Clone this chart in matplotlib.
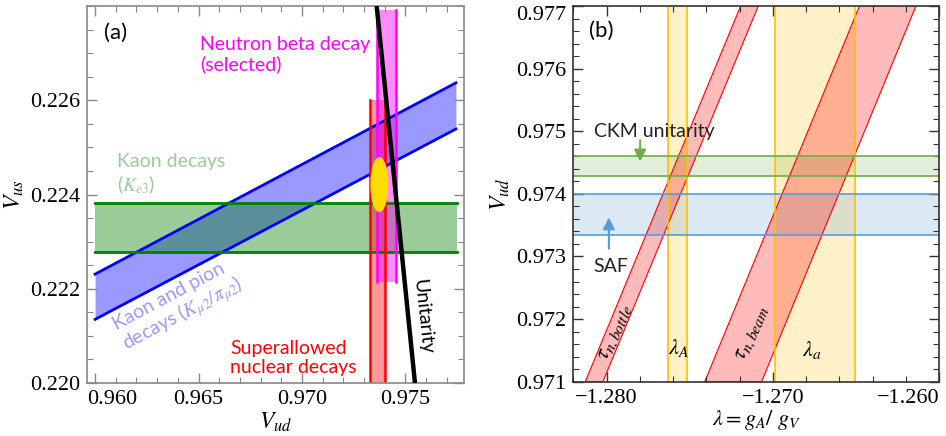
import numpy as np
import matplotlib.pyplot as plt
from matplotlib.patches import Ellipse
from matplotlib.ticker import MultipleLocator
from matplotlib.transforms import ScaledTranslation

plt.rcParams['mathtext.fontset'] = 'stix'
plt.rcParams['font.family'] = ['Lato', 'DejaVu Sans']

# ---- panel (a) data : Vud vs Vus ----
ke3_vud = [0.9600, 0.97747]
ke3_vus = [0.22277, 0.22382]          # lower, upper
kmu2_vud = [0.9600, 0.97744]
kmu2_upper = [0.22231, 0.22637]
kmu2_lower = [0.22135, 0.22539]
saf_vud = [0.97328, 0.97401]
saf_vus = [0.2200, 0.2260]
neutron_vud = [0.97364, 0.97454]
neutron_vus = [0.22215, 0.22791]
fit_center = [0.97374, 0.22421]
fit_size = [0.00087, 0.00117]
unitarity_vud = [0.97361, 0.97546]
unitarity_vus = [0.2280, 0.2200]
a_xticks = [0.960, 0.965, 0.970, 0.975]
a_yticks = [0.220, 0.222, 0.224, 0.226]

# ---- panel (b) data : lambda vs Vud ----
ckm_vud = [0.97429, 0.97460]
saf_b_vud = [0.97335, 0.97399]
lamA = [-1.27628, -1.27518]
lama = [-1.26988, -1.26504]
band_y = [0.971, 0.977]
bottle_bottom = [-1.28128, -1.28022]
bottle_top = [-1.27194, -1.27088]
beam_bottom = [-1.27410, -1.27068]
beam_top = [-1.26480, -1.26140]
b_xticks = [-1.280, -1.270, -1.260]
b_yticks = [0.971, 0.972, 0.973, 0.974, 0.975, 0.976, 0.977]

fig = plt.figure(figsize=(9.46, 4.36), dpi=100)
ax1 = fig.add_axes([87/946, 53/436, 377/946, 377/436])
ax2 = fig.add_axes([573.3/946, 54.3/436, 366/946, 375.7/436])

serif = 'Liberation Serif'
tfs = 16   # tick label size
afs = 14   # annotation size

# panel (a)
ax1.fill_between(kmu2_vud, kmu2_lower, kmu2_upper, color='blue', alpha=0.4, lw=0)
ax1.plot(kmu2_vud, kmu2_upper, color='blue', lw=2)
ax1.plot(kmu2_vud, kmu2_lower, color='blue', lw=2)
ax1.fill_between(ke3_vud, ke3_vus[0], ke3_vus[1], color='green', alpha=0.4, lw=0)
for v in ke3_vus:
    ax1.plot(ke3_vud, [v, v], color='green', lw=2)
ax1.fill_betweenx(saf_vus, saf_vud[0], saf_vud[1], color='red', alpha=0.4, lw=0)
for v in saf_vud:
    ax1.plot([v, v], saf_vus, color='red', lw=1.8)
ax1.fill_betweenx(neutron_vus, neutron_vud[0], neutron_vud[1], color='magenta', alpha=0.45, lw=0)
for v in neutron_vud:
    ax1.plot([v, v], neutron_vus, color='magenta', lw=1.8)
ax1.add_patch(Ellipse(fit_center, fit_size[0], fit_size[1], color='#ffdd00', lw=0, zorder=4))
ax1.plot(unitarity_vud, unitarity_vus, color='black', lw=3.2, zorder=5, solid_capstyle='butt')

ax1.set_xlim(0.95961, 0.97783)
ax1.set_ylim(0.2200, 0.2280)

ax1.text(0.96101, 0.22742, '(a)', fontsize=16, ha='center', va='center')
ax1.text(0.96507, 0.22697, 'Neutron beta decay\n(selected)', color='magenta',
         fontsize=afs, ha='left', va='center', linespacing=1.2)
ax1.text(0.96106, 0.22442, 'Kaon decays\n($K_{e3}$)', color='#99cc99',
         fontsize=afs, ha='left', va='center', linespacing=1.2)
ax1.text(0.96406, 0.22163, 'Kaon and pion\ndecays ($K_{\\mu 2}/\\pi_{\\mu 2}$)', color='#9999ff',
         fontsize=afs, ha='center', va='center', rotation=28, multialignment='left', linespacing=1.05)
ax1.text(0.96652, 0.22053, 'Superallowed\nnuclear decays', color='red',
         fontsize=afs, ha='left', va='center', linespacing=1.2)
ax1.text(0.97585, 0.2214, 'Unitarity', color='black', fontsize=afs,
         ha='center', va='center', rotation=-84)

ax1.set_xlabel('$V_{ud}$', fontsize=17, labelpad=1)
ax1.set_ylabel('$V_{us}$', fontsize=17, labelpad=3)

# panel (b)
ax2.fill_betweenx(band_y, lamA[0], lamA[1], color='#ffc000', alpha=0.22, lw=0)
ax2.fill_betweenx(band_y, lama[0], lama[1], color='#ffc000', alpha=0.22, lw=0)
for v in lamA + lama:
    ax2.plot([v, v], band_y, color='#ffc000', lw=1.2)
ax2.fill_between([-1.2820, -1.2600], ckm_vud[0], ckm_vud[1], color='#70ad47', alpha=0.2, lw=0)
for v in ckm_vud:
    ax2.axhline(v, color='#70ad47', lw=1.2)
ax2.fill_between([-1.2820, -1.2600], saf_b_vud[0], saf_b_vud[1], color='#5b9bd5', alpha=0.22, lw=0)
for v in saf_b_vud:
    ax2.axhline(v, color='#5b9bd5', lw=1.2)
for bot, top in [(bottle_bottom, bottle_top), (beam_bottom, beam_top)]:
    xs = [bot[0], bot[1], top[1], top[0]]
    ys = [band_y[0], band_y[0], band_y[1], band_y[1]]
    ax2.fill(xs, ys, facecolor='red', alpha=0.27, lw=0)
    ax2.fill(xs, ys, facecolor='none', edgecolor='red', lw=0.8)

ax2.set_xlim(-1.2820, -1.2600)
ax2.set_ylim(0.971, 0.977)

ax2.text(-1.28032, 0.97660, '(b)', fontsize=16, ha='center', va='center')
ax2.text(-1.28078, 0.97500, 'CKM unitarity', fontsize=afs, color='#222222', ha='left', va='center')
ax2.text(-1.28078, 0.97284, 'SAF', fontsize=afs, color='#222222', ha='left', va='center')
ax2.annotate('', xy=(-1.27798, 0.97447), xytext=(-1.27798, 0.97490),
             arrowprops=dict(arrowstyle='-|>,head_width=0.35,head_length=0.7', color='#70ad47', lw=1.5))
ax2.annotate('', xy=(-1.27986, 0.97367), xytext=(-1.27986, 0.97308),
             arrowprops=dict(arrowstyle='-|>,head_width=0.35,head_length=0.7', color='#5b9bd5', lw=1.5))
ax2.text(-1.27942, 0.97178, '$\\tau_{n,bottle}$', fontsize=16, rotation=66, ha='center', va='center')
ax2.text(-1.27124, 0.97178, '$\\tau_{n,beam}$', fontsize=16, rotation=66, ha='center', va='center')
ax2.text(-1.27566, 0.97154, '$\\lambda_A$', fontsize=16, ha='center', va='center')
ax2.text(-1.26764, 0.97151, '$\\lambda_a$', fontsize=16, ha='center', va='center')

ax2.set_xlabel('$\\lambda = g_A/\\ g_V$', fontsize=16, labelpad=0)
ax2.set_ylabel('$V_{ud}$', fontsize=17, labelpad=3)

# ticks / frame
for ax, fc in [(ax1, '#888888'), (ax2, '#333333')]:
    for s in ax.spines.values():
        s.set_color(fc)
        s.set_linewidth(1.2)
    ax.tick_params(which='both', direction='in', top=True, right=True, colors=fc,
                   labelcolor='black', labelsize=tfs, pad=5)
    ax.tick_params(which='major', length=7, width=1)
    ax.tick_params(which='minor', length=4, width=0.8)

ax1.set_xticks(a_xticks)
ax1.set_xticklabels(['%.3f' % v for v in a_xticks], fontfamily=serif, fontsize=tfs)
ax1.set_yticks(a_yticks)
ax1.set_yticklabels(['%.3f' % v for v in a_yticks], fontfamily=serif, fontsize=tfs)
ax1.xaxis.set_minor_locator(MultipleLocator(0.001))
ax1.yaxis.set_minor_locator(MultipleLocator(0.0005))
lab0 = ax1.get_xticklabels()[0]
lab0.set_horizontalalignment('left')
lab0.set_transform(lab0.get_transform() + ScaledTranslation(-8/100, 0, fig.dpi_scale_trans))

ax2.set_xticks(b_xticks)
ax2.set_xticklabels(['\u2212%.3f' % abs(v) for v in b_xticks], fontfamily=serif, fontsize=tfs)
ax2.set_yticks(b_yticks)
ax2.set_yticklabels(['%.3f' % v for v in b_yticks], fontfamily=serif, fontsize=tfs)
ax2.xaxis.set_minor_locator(MultipleLocator(0.002))
ax2.yaxis.set_minor_locator(MultipleLocator(0.0002))
ax2.get_xticklabels()[-1].set_horizontalalignment('right')
ax2.get_yticklabels()[-1].set_verticalalignment('top')

fig.savefig('out.png', dpi=100)
